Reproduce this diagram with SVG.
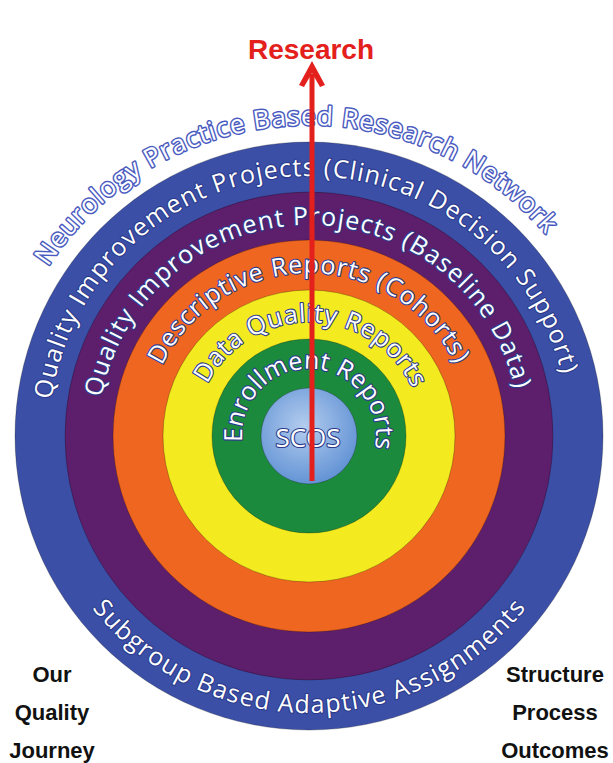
<svg xmlns="http://www.w3.org/2000/svg" width="613" height="763" viewBox="0 0 613 763">
<defs>
<radialGradient id="gScos" cx="0.45" cy="0.4" r="0.65">
<stop offset="0" stop-color="#b4cdef"/>
<stop offset="1" stop-color="#5d8fd3"/>
</radialGradient>
<marker id="ah" markerUnits="userSpaceOnUse" markerWidth="30" markerHeight="30" viewBox="-15 -2 30 30" refX="0" refY="0" orient="auto-start-reverse" overflow="visible">
<path d="M0,-13 L13,11 L8,13 L0,-1 L-8,13 L-13,11 Z" fill="#e3201b" transform="rotate(90)"/>
</marker>
<path id="p6" d="M48.2,266.6 A311,311 0 0 1 547.2,236.1"/>
<path id="p5" d="M51.5,399.8 A260,260 0 0 1 562.3,377.5"/>
<path id="p4" d="M101.5,397.6 A211,211 0 0 1 515.4,392.1"/>
<path id="p3" d="M161.9,365.8 A163,163 0 0 1 456.1,365.8"/>
<path id="p2" d="M207.4,384.2 A114,114 0 0 1 413.1,389.6"/>
<path id="p1" d="M242.3,441.8 A67,67 0 1 1 374.5,449.9"/>
<path id="p7" d="M92.2,608.4 A277,277 0 0 0 527.3,606.5"/>
</defs>
<style>
.ring{stroke:#000;stroke-opacity:0.25;stroke-width:1}
.rt{font-family:"Open Sans","Noto Sans",sans-serif;font-size:25px;fill:#fff;stroke:#2a3a8a;stroke-width:2.2;paint-order:stroke;stroke-linejoin:round}
.ot{font-family:"Open Sans","Noto Sans",sans-serif;font-size:26px;fill:#fff;stroke:#4a5bbf;stroke-width:3;paint-order:stroke;stroke-linejoin:round}
.side{font-family:"Liberation Sans",Arial,sans-serif;font-size:22px;font-weight:bold;fill:#111;text-anchor:middle}
</style>
<rect width="613" height="763" fill="#fff"/>

<g id="ring-network">
<text class="ot"><textPath href="#p6" textLength="578" lengthAdjust="spacing">Neurology Practice Based Research Network</textPath></text>
</g>
<g id="ring-clinical">
<circle class="ring" cx="309" cy="436" r="294" fill="#3b4fa7"/>
<text class="rt"><textPath href="#p5" textLength="718" lengthAdjust="spacing">Quality Improvement Projects (Clinical Decision Support)</textPath></text>
<text class="rt"><textPath href="#p7" textLength="498" lengthAdjust="spacing">Subgroup Based Adaptive Assignments</textPath></text>
</g>
<g id="ring-baseline">
<circle class="ring" cx="309" cy="436" r="244" fill="#5d1e6b"/>
<text class="rt"><textPath href="#p4" textLength="577" lengthAdjust="spacing">Quality Improvement Projects (Baseline Data)</textPath></text>
</g>
<g id="ring-descriptive">
<circle class="ring" cx="309" cy="436" r="196" fill="#ef6620"/>
<text class="rt"><textPath href="#p3" textLength="365" lengthAdjust="spacing">Descriptive Reports (Cohorts)</textPath></text>
</g>
<g id="ring-dataquality">
<circle class="ring" cx="309" cy="436" r="146" fill="#f3ea1f"/>
<text class="rt"><textPath href="#p2" textLength="255" lengthAdjust="spacing">Data Quality Reports</textPath></text>
</g>
<g id="ring-enrollment">
<circle class="ring" cx="309" cy="436" r="97" fill="#1c8a3c"/>
<text class="rt"><textPath href="#p1" textLength="229" lengthAdjust="spacing">Enrollment Reports</textPath></text>
</g>
<g id="node-scos">
<circle class="ring" cx="309" cy="436" r="48" fill="url(#gScos)"/>
<text class="rt" x="308" y="447" text-anchor="middle" style="font-size:26px">SCOS</text>
</g>

<g id="connectors">
<line x1="312" y1="481" x2="312" y2="74" stroke="#e3201b" stroke-width="5" marker-end="url(#ah)"/>
</g>

<g id="label-research">
<text x="311" y="59" text-anchor="middle" style="font-family:'Liberation Sans',Arial,sans-serif;font-size:28px;font-weight:bold;fill:#e3201b">Research</text>
</g>
<g id="label-journey">
<text class="side" x="52" y="682">Our</text>
<text class="side" x="52" y="720">Quality</text>
<text class="side" x="52" y="758">Journey</text>
</g>
<g id="label-spo">
<text class="side" x="555" y="682">Structure</text>
<text class="side" x="555" y="720">Process</text>
<text class="side" x="555" y="758">Outcomes</text>
</g>
</svg>
